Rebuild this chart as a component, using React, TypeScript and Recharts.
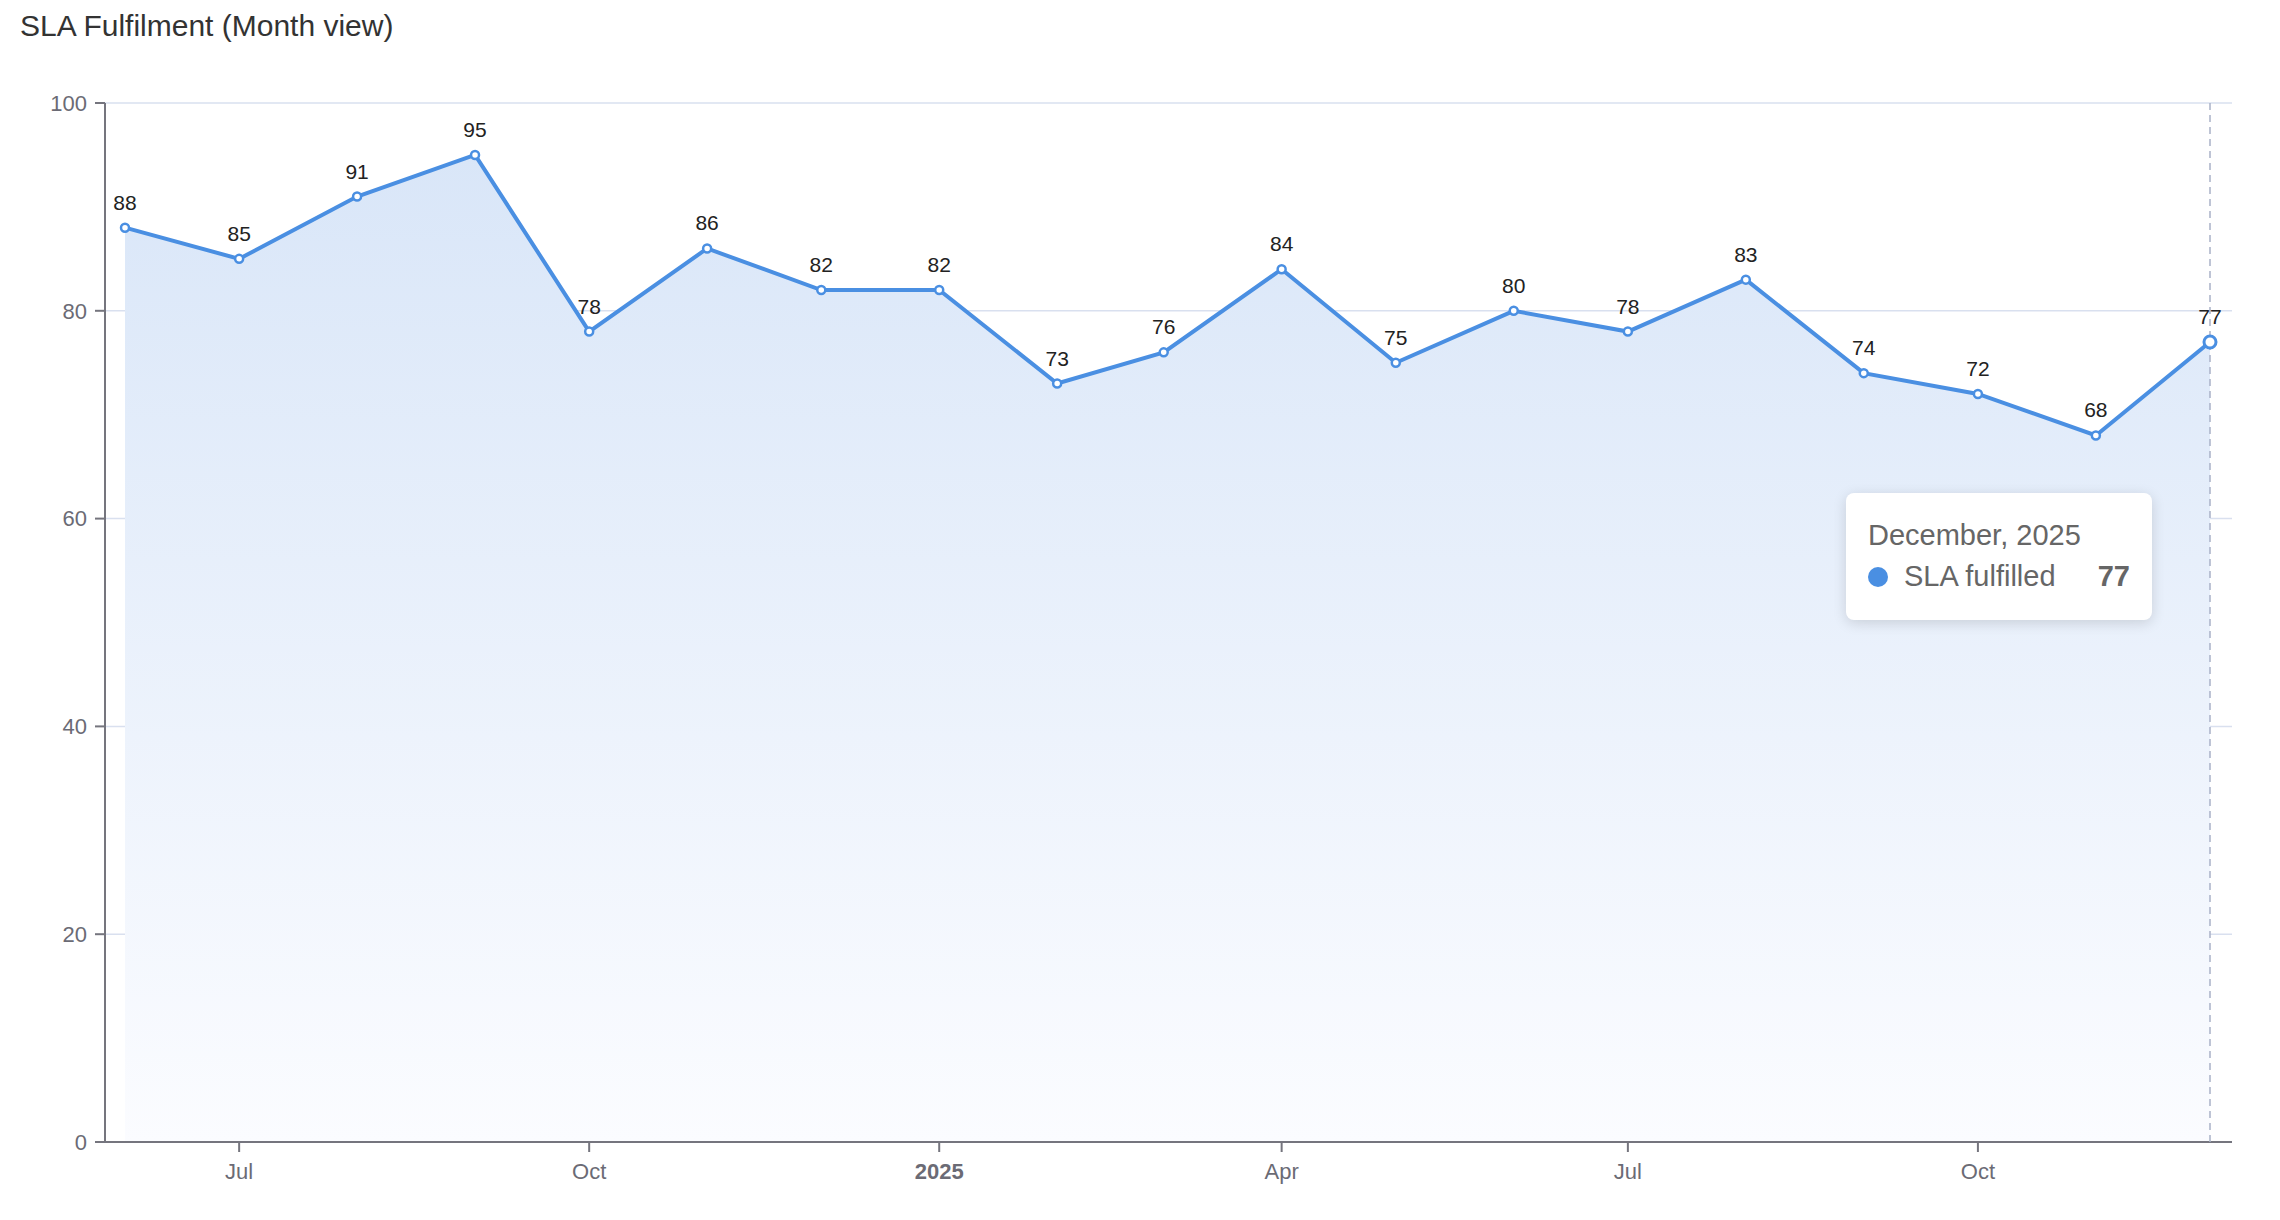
import React from 'react';
import {
  AreaChart,
  Area,
  XAxis,
  YAxis,
  CartesianGrid,
  Tooltip,
  LabelList,
} from 'recharts';

// month keys (year-month) and SLA values
const months = [
  '2024-06', '2024-07', '2024-08', '2024-09', '2024-10', '2024-11', '2024-12',
  '2025-01', '2025-02', '2025-03', '2025-04', '2025-05', '2025-06', '2025-07',
  '2025-08', '2025-09', '2025-10', '2025-11', '2025-12',
];
const slaValues = [88, 85, 91, 95, 78, 86, 82, 82, 73, 76, 84, 75, 80, 78, 83, 74, 72, 68, 77];

const xTickMonths = ['2024-07', '2024-10', '2025-01', '2025-04', '2025-07', '2025-10'];
const yTicks = [0, 20, 40, 60, 80, 100];

const MONTH_SHORT = ['Jan', 'Feb', 'Mar', 'Apr', 'May', 'Jun', 'Jul', 'Aug', 'Sep', 'Oct', 'Nov', 'Dec'];
const MONTH_LONG = ['January', 'February', 'March', 'April', 'May', 'June', 'July', 'August', 'September', 'October', 'November', 'December'];

const toTs = (m: string) => {
  const [y, mo] = m.split('-').map(Number);
  return Date.UTC(y, mo - 1, 1);
};

const data = months.map((m, i) => ({ t: toTs(m), value: slaValues[i] }));
const xTicks = xTickMonths.map(toTs);

const FONT = '"Liberation Sans", Arial, Helvetica, sans-serif';
const BLUE = '#4a8fe2';
const AXIS = '#75757e';

function MonthTick(props: any) {
  const { x, y, payload } = props;
  const d = new Date(payload.value);
  const isYear = d.getUTCMonth() === 0;
  const label = isYear ? String(d.getUTCFullYear()) : MONTH_SHORT[d.getUTCMonth()];
  return (
    <text
      x={x}
      y={y}
      dy={25}
      textAnchor="middle"
      fill="#6b6b75"
      fontSize={22}
      fontWeight={isYear ? 700 : 400}
      fontFamily={FONT}
    >
      {label}
    </text>
  );
}

function SlaTooltip({ active, payload }: any) {
  if (!active || !payload || !payload.length) return null;
  const p = payload[0];
  const d = new Date(p.payload.t);
  return (
    <div
      style={{
        width: 306,
        height: 127,
        boxSizing: 'border-box',
        background: '#fff',
        borderRadius: 8,
        boxShadow: '0 3px 14px rgba(0,0,0,0.14)',
        padding: '25px 22px 0 22px',
        fontFamily: FONT,
      }}
    >
      <div style={{ fontSize: 29, color: '#666', lineHeight: '34px' }}>
        {MONTH_LONG[d.getUTCMonth()]}, {d.getUTCFullYear()}
      </div>
      <div style={{ display: 'flex', alignItems: 'center', marginTop: 8, fontSize: 29, color: '#666' }}>
        <span style={{ width: 20, height: 20, borderRadius: 10, background: BLUE, display: 'inline-block', marginRight: 16 }} />
        <span>SLA fulfilled</span>
        <span style={{ marginLeft: 'auto', fontWeight: 700, color: '#666' }}>{p.value}</span>
      </div>
    </div>
  );
}

export default function App() {
  return (
    <div style={{ position: 'absolute', left: 0, top: 0, width: 2280, height: 1220, background: '#fff' }}>
      <div
        style={{
          position: 'absolute',
          left: 20,
          top: 9,
          fontFamily: FONT,
          fontSize: 30,
          color: '#333',
          zIndex: 2,
        }}
      >
        SLA Fulfilment (Month view)
      </div>
      <AreaChart
        width={2280}
        height={1220}
        data={data}
        margin={{ top: 103, right: 48, left: 0, bottom: 0 }}
      >
        <defs>
          <linearGradient id="slaFill" x1="0" y1="0" x2="0" y2="1">
            <stop offset="0%" stopColor="#d9e6f8" stopOpacity={1} />
            <stop offset="100%" stopColor="#fbfcff" stopOpacity={1} />
          </linearGradient>
        </defs>
        <CartesianGrid vertical={false} stroke="#d9e0ef" strokeWidth={1.5} />
        <XAxis
          dataKey="t"
          type="number"
          scale="time"
          domain={['dataMin', 'dataMax']}
          ticks={xTicks}
          padding={{ left: 20, right: 22 }}
          height={78}
          tickSize={10}
          tick={<MonthTick />}
          stroke={AXIS}
          strokeWidth={2}
        />
        <YAxis
          domain={[0, 100]}
          ticks={yTicks}
          width={105}
          tickSize={10}
          tickMargin={8}
          stroke={AXIS}
          strokeWidth={2}
          tick={{ fill: '#6b6b75', fontSize: 22, fontFamily: FONT }}
        />
        <Tooltip
          active
          defaultIndex={18}
          isAnimationActive={false}
          position={{ x: 1846, y: 493 }}
          content={<SlaTooltip />}
          cursor={{ stroke: '#a9b1c8', strokeWidth: 1.5, strokeDasharray: '7 5' }}
        />
        <Area
          type="linear"
          dataKey="value"
          stroke={BLUE}
          strokeWidth={4}
          fill="url(#slaFill)"
          fillOpacity={1}
          dot={{ r: 4, fill: '#fff', stroke: BLUE, strokeWidth: 2.5 }}
          activeDot={{ r: 6, fill: '#fff', stroke: BLUE, strokeWidth: 3 }}
          isAnimationActive={false}
        >
          <LabelList
            dataKey="value"
            position="top"
            offset={18}
            fill="#222"
            fontSize={21}
            fontFamily={FONT}
          />
        </Area>
      </AreaChart>
    </div>
  );
}
